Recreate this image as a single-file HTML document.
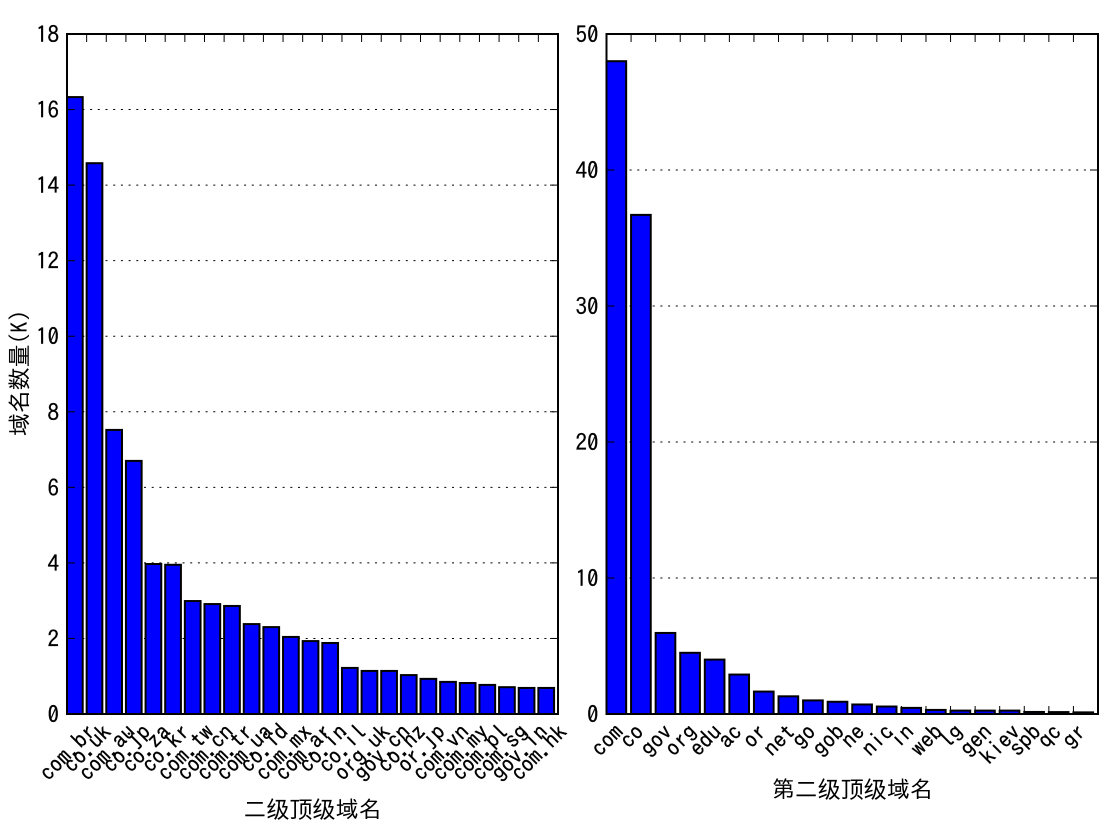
<!DOCTYPE html>
<html>
<head>
<meta charset="utf-8">
<style>
html,body{margin:0;padding:0;background:#fff;}
svg{display:block;}
text{font-family:"IPAGothic","Noto Sans CJK SC",sans-serif;fill:#000;}
.tick-text{stroke:#000;stroke-width:0.25px;}
</style>
</head>
<body>
<svg id="fig" width="1120" height="840" viewBox="0 0 1120 840" xmlns="http://www.w3.org/2000/svg"></svg>
<script>
var leftCategories = ["com.br","co.uk","com.au","co.jp","co.za","co.kr","com.tw","com.cn","com.tr","com.ua","co.id","com.mx","com.ar","co.in","co.il","org.uk","gov.cn","co.nz","or.jp","com.vn","com.my","com.pl","com.sg","gov.in","com.hk"];
var leftValues = [16.33,14.58,7.52,6.7,3.97,3.95,2.99,2.91,2.86,2.38,2.3,2.04,1.93,1.88,1.22,1.14,1.14,1.03,0.93,0.85,0.82,0.77,0.71,0.69,0.69];
var leftTicks = [0,2,4,6,8,10,12,14,16,18];
var rightCategories = ["com","co","gov","org","edu","ac","or","net","go","gob","ne","nic","in","web","lg","gen","kiev","spb","qc","gr"];
var rightValues = [48.0,36.7,5.96,4.5,4.0,2.9,1.65,1.3,1.0,0.9,0.7,0.55,0.45,0.3,0.25,0.25,0.25,0.15,0.14,0.12];
var rightTicks = [0,10,20,30,40,50];

var NS = 'http://www.w3.org/2000/svg';
var fig = document.getElementById('fig');
function mk(tag, attrs, parent) {
  var el = document.createElementNS(NS, tag);
  for (var k in attrs) el.setAttribute(k, attrs[k]);
  (parent || fig).appendChild(el);
  return el;
}
function drawPanel(key, box, cats, vals, ticks, yMax, xTitle, xTitleY) {
  var g = mk('g', {});
  
  
  var sx = function (v) { return box.x0 + (v / cats.length) * (box.x1 - box.x0); };
  var sy = function (v) { return box.y1 - (v / yMax) * (box.y1 - box.y0); };

  ticks.forEach(function (t) {
    if (t === 0 || t === yMax) return;
    var grid = mk('line', {x1: box.x0, x2: box.x1, y1: sy(t), y2: sy(t), stroke: '#000', 'stroke-width': 1, 'stroke-dasharray': '2 5.7'}, g);
    
    
  });

  cats.forEach(function (c, i) {
    var bar = mk('rect', {x: sx(i), y: sy(vals[i]), width: sx(i + 0.8) - sx(i), height: sy(0) - sy(vals[i]), fill: '#0000ff', stroke: '#000', 'stroke-width': 2}, g);
    
    
  });

  ticks.forEach(function (t) {
    var y = sy(t);
    mk('line', {x1: box.x0, x2: box.x0 + 8, y1: y, y2: y, stroke: '#000', 'stroke-width': 1}, g);
    mk('line', {x1: box.x1 - 8, x2: box.x1, y1: y, y2: y, stroke: '#000', 'stroke-width': 1}, g);
    var lab = mk('text', {x: box.x0 - 8, y: y, 'text-anchor': 'end', 'dominant-baseline': 'central', 'font-size': 23, 'class': 'tick-text'}, g);
    lab.textContent = t;
    
    
  });

  cats.forEach(function (c, i) {
    var x = sx(i);
    if (i > 0) {
      mk('line', {x1: x, x2: x, y1: box.y0, y2: box.y0 + 8, stroke: '#000', 'stroke-width': 1}, g);
      mk('line', {x1: x, x2: x, y1: box.y1 - 8, y2: box.y1, stroke: '#000', 'stroke-width': 1}, g);
    }
    var lab = mk('text', {'text-anchor': 'middle', 'dominant-baseline': 'central', 'font-size': 23, 'class': 'tick-text'}, g);
    lab.textContent = c;
    
    
    var len = lab.getComputedTextLength();
    var cy = box.y1 + 8 + (len + 15) * Math.SQRT1_2 / 2;
    lab.setAttribute('transform', 'translate(' + x + ' ' + cy + ') rotate(-45)');
  });

  var frame = mk('rect', {x: box.x0, y: box.y0, width: box.x1 - box.x0, height: box.y1 - box.y0, fill: 'none', stroke: '#000', 'stroke-width': 2}, g);
  
  

  var title = mk('text', {x: (box.x0 + box.x1) / 2, y: xTitleY, 'text-anchor': 'middle', 'dominant-baseline': 'central', 'font-size': 23}, g);
  title.textContent = xTitle;
  
  
}
drawPanel('left', {x0: 67, x1: 558, y0: 34, y1: 714}, leftCategories, leftValues, leftTicks, 18, '二级顶级域名', 809);
drawPanel('right', {x0: 606.5, x1: 1098, y0: 34, y1: 714}, rightCategories, rightValues, rightTicks, 50, '第二级顶级域名', 789);
var yTitle = mk('text', {'text-anchor': 'middle', 'dominant-baseline': 'central', 'font-size': 23, transform: 'translate(19 373) rotate(-90)'});
yTitle.textContent = '域名数量(K)';


</script>
</body>
</html>
